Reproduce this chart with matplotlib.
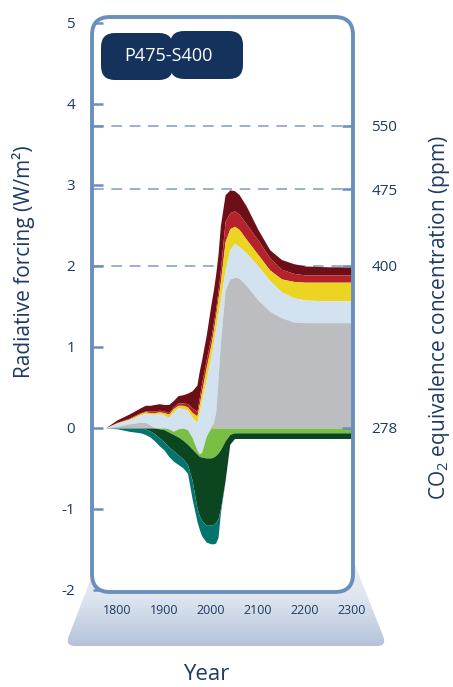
import numpy as np
import matplotlib
matplotlib.use("Agg")
from matplotlib import pyplot as plt
from matplotlib.patches import FancyBboxPatch, PathPatch
from matplotlib.path import Path
from matplotlib.colors import LinearSegmentedColormap

plt.rcParams['font.family'] = ['Open Sans', 'DejaVu Sans']
plt.rcParams['mathtext.default'] = 'regular'

# years
years = [1775, 1800, 1825, 1850, 1860, 1870, 1880, 1890, 1900, 1910, 1920, 1930,
         1940, 1950, 1960, 1970, 1975, 1980, 1990, 2000, 2005, 2010, 2015, 2020,
         2030, 2040, 2050, 2060, 2075, 2100, 2125, 2150, 2175, 2200, 2250, 2300]

# upper edge of each band (W/m2), top to bottom
maroon_top = [0.00, 0.10, 0.17, 0.25, 0.28, 0.28, 0.29, 0.30, 0.29, 0.29, 0.34, 0.40,
              0.41, 0.43, 0.46, 0.53, 0.70, 0.84, 1.15, 1.53, 1.70, 1.90, 2.15, 2.50,
              2.88, 2.94, 2.93, 2.88, 2.74, 2.45, 2.20, 2.08, 2.03, 2.00, 1.99, 1.99]
red_top    = [0.00, 0.07, 0.12, 0.19, 0.21, 0.21, 0.21, 0.22, 0.21, 0.19, 0.26, 0.31,
              0.31, 0.30, 0.25, 0.20, 0.37, 0.55, 0.85, 1.12, 1.30, 1.47, 1.70, 1.95,
              2.55, 2.66, 2.68, 2.64, 2.52, 2.32, 2.10, 1.96, 1.91, 1.89, 1.89, 1.89]
yellow_top = [0.00, 0.065, 0.11, 0.18, 0.20, 0.19, 0.19, 0.20, 0.19, 0.17, 0.24, 0.28,
              0.28, 0.26, 0.19, 0.15, 0.29, 0.45, 0.75, 1.03, 1.20, 1.39, 1.60, 1.80,
              2.30, 2.46, 2.49, 2.45, 2.33, 2.14, 1.95, 1.84, 1.81, 1.80, 1.80, 1.80]
lblue_top  = [0.00, 0.06, 0.10, 0.16, 0.18, 0.17, 0.17, 0.18, 0.16, 0.13, 0.20, 0.25,
              0.24, 0.22, 0.13, 0.07, 0.20, 0.33, 0.60, 0.88, 1.05, 1.22, 1.40, 1.58,
              1.95, 2.20, 2.28, 2.24, 2.16, 2.00, 1.82, 1.68, 1.61, 1.58, 1.57, 1.57]
grey_top   = [0.00, 0.02, 0.05, 0.07, 0.07, 0.04, 0.00, 0.00, 0.00, -0.01, -0.04, -0.01,
              0.00, -0.02, -0.12, -0.27, -0.32, -0.30, -0.10, 0.02, 0.06, 0.20, 0.60, 1.05,
              1.70, 1.84, 1.86, 1.85, 1.76, 1.58, 1.44, 1.36, 1.31, 1.30, 1.30, 1.30]
lgreen_top = [0.00, 0.00, 0.00, 0.00, 0.00, 0.00, 0.00, 0.00, 0.00, -0.01, -0.04, -0.01,
              0.00, -0.02, -0.12, -0.27, -0.32, -0.30, -0.10, 0.00, 0.00, 0.00, 0.00, 0.00,
              0.00, 0.00, 0.00, 0.00, 0.00, 0.00, 0.00, 0.00, 0.00, 0.00, 0.00, 0.00]
dgreen_top = [0.00, 0.00, 0.00, 0.00, 0.00, 0.00, 0.00, -0.01, -0.02, -0.05, -0.08, -0.11,
              -0.15, -0.20, -0.26, -0.32, -0.35, -0.36, -0.37, -0.37, -0.36, -0.34, -0.31, -0.27,
              -0.16, -0.08, -0.06, -0.06, -0.06, -0.06, -0.06, -0.06, -0.06, -0.06, -0.06, -0.06]
teal_top   = [0.00, 0.00, 0.00, 0.00, -0.01, -0.035, -0.07, -0.12, -0.17, -0.23, -0.28, -0.33,
              -0.38, -0.45, -0.65, -0.98, -1.08, -1.14, -1.20, -1.20, -1.19, -1.17, -1.12, -1.00,
              -0.65, -0.20, -0.13, -0.13, -0.13, -0.13, -0.13, -0.13, -0.13, -0.13, -0.13, -0.13]
teal_bottom = [0.00, -0.01, -0.04, -0.06, -0.08, -0.11, -0.16, -0.22, -0.27, -0.35, -0.41, -0.45,
               -0.49, -0.56, -0.88, -1.15, -1.25, -1.33, -1.41, -1.43, -1.43, -1.42, -1.35, -1.05,
               -0.65, -0.20, -0.13, -0.13, -0.13, -0.13, -0.13, -0.13, -0.13, -0.13, -0.13, -0.13]

edges = [maroon_top, red_top, yellow_top, lblue_top, grey_top,
         lgreen_top, dgreen_top, teal_top, teal_bottom]
band_colors = ['#6d0f17', '#b4232b', '#ecd423', '#d2e2ee', '#bcbdc1',
               '#78bf44', '#0c4620', '#04746e']

left_ticks = [-2, -1, 0, 1, 2, 3, 4, 5]
ppm_levels = [3.73, 2.95, 2.0, 0.0]
ppm_labels = ['550', '475', '400', '278']
year_ticks = [1800, 1900, 2000, 2100, 2200, 2300]

frame = '#6a8fba'
navy = '#14325c'
txt = '#1e3a62'

W, H = 453, 687
fig = plt.figure(figsize=(W / 100, H / 100), dpi=100)


def px_rect(x0, y0, x1, y1):
    return [x0 / W, 1 - y1 / H, (x1 - x0) / W, (y1 - y0) / H]


def rounded_poly(pts, r):
    verts, codes = [], []
    n = len(pts)
    for i in range(n):
        p0, p1, p2 = np.array(pts[i - 1], float), np.array(pts[i], float), np.array(pts[(i + 1) % n], float)
        a = p1 + (p0 - p1) / np.linalg.norm(p0 - p1) * r
        b = p1 + (p2 - p1) / np.linalg.norm(p2 - p1) * r
        verts += [a, p1, b]
        codes += [Path.LINETO if i else Path.MOVETO, Path.CURVE3, Path.CURVE3]
    verts.append(verts[0])
    codes.append(Path.CLOSEPOLY)
    return Path(verts, codes)


# background layer in pixel coordinates
bg = fig.add_axes([0, 0, 1, 1])
bg.set_xlim(0, W)
bg.set_ylim(H, 0)
bg.axis('off')
bg.add_patch(FancyBboxPatch((92, 17), 261, 575, boxstyle='round,pad=0,rounding_size=18',
                            fc='white', ec='none'))
trap = PathPatch(rounded_poly([(103, 547), (348, 547), (387, 646), (65, 646)], 10),
                 fc='none', ec='none', transform=bg.transData)
bg.add_patch(trap)
cmap = LinearSegmentedColormap.from_list('base', ['#eef2f8', '#dfe6f0', '#b4c3da'])
im = bg.imshow(np.linspace(0, 1, 256).reshape(-1, 1), extent=(65, 387, 646, 547),
               cmap=cmap, aspect='auto', origin='upper')
im.set_clip_path(trap)

# data axes
ax = fig.add_axes(px_rect(93, 17, 352, 592))
ax.set_facecolor('none')
ax.set_xlim(1749, 2300)
ax.set_ylim(-2.025, 5.074)
for s in ax.spines.values():
    s.set_visible(False)

for lvl in ppm_levels[:3]:
    ax.axhline(lvl, color='#7d9dc3', lw=1.1, dashes=(7, 5), zorder=1)

for i, c in enumerate(band_colors):
    ax.fill_between(years, edges[i + 1], edges[i], color=c, lw=0, zorder=2)

ax.set_yticks(left_ticks)
ax.set_yticklabels([str(t) for t in left_ticks])
ax.set_yticks([ppm_levels[0]], minor=True)
ax.tick_params(axis='y', which='both', direction='in', length=7, width=1.8, color=frame,
               labelsize=11, labelcolor=txt, pad=13)
ticks = ax.yaxis.get_major_ticks()
ticks[0].tick1line.set_visible(False)
ticks[-1].tick1line.set_visible(False)
ax.set_xticks(year_ticks)
ax.tick_params(axis='x', length=0, pad=9, labelsize=9, labelcolor=txt)

ax2 = ax.twinx()
ax2.set_ylim(ax.get_ylim())
for s in ax2.spines.values():
    s.set_visible(False)
ax2.set_yticks(ppm_levels)
ax2.set_yticklabels(ppm_labels)
ax2.tick_params(axis='y', direction='in', length=7, width=1.8, color=frame,
                labelsize=11, labelcolor=txt, pad=14)

# overlay: frame and scenario badge
ov = fig.add_axes([0, 0, 1, 1])
ov.set_xlim(0, W)
ov.set_ylim(H, 0)
ov.axis('off')
ov.add_patch(FancyBboxPatch((92, 17), 261, 575, boxstyle='round,pad=0,rounding_size=18',
                            fc='none', ec=frame, lw=2.8))
ov.add_patch(FancyBboxPatch((101, 33), 72, 47, boxstyle='round,pad=0,rounding_size=14',
                            fc=navy, ec='none'))
ov.add_patch(FancyBboxPatch((170, 31), 73, 48, boxstyle='round,pad=0,rounding_size=14',
                            fc=navy, ec='none'))
ov.text(168, 56, 'P475-S400', color='white', fontsize=13, ha='center', va='center')

fig.text(24 / W, 1 - 262 / H, 'Radiative forcing (W/m²)', rotation=90,
         ha='center', va='center', fontsize=15, color=txt)
fig.text(440 / W, 1 - 318 / H, 'CO$_2$ equivalence concentration (ppm)', rotation=90,
         ha='center', va='center', fontsize=15, color=txt)
fig.text(206 / W, 1 - 675 / H, 'Year', ha='center', va='center', fontsize=16, color=txt)

fig.savefig('out.png', dpi=100)
